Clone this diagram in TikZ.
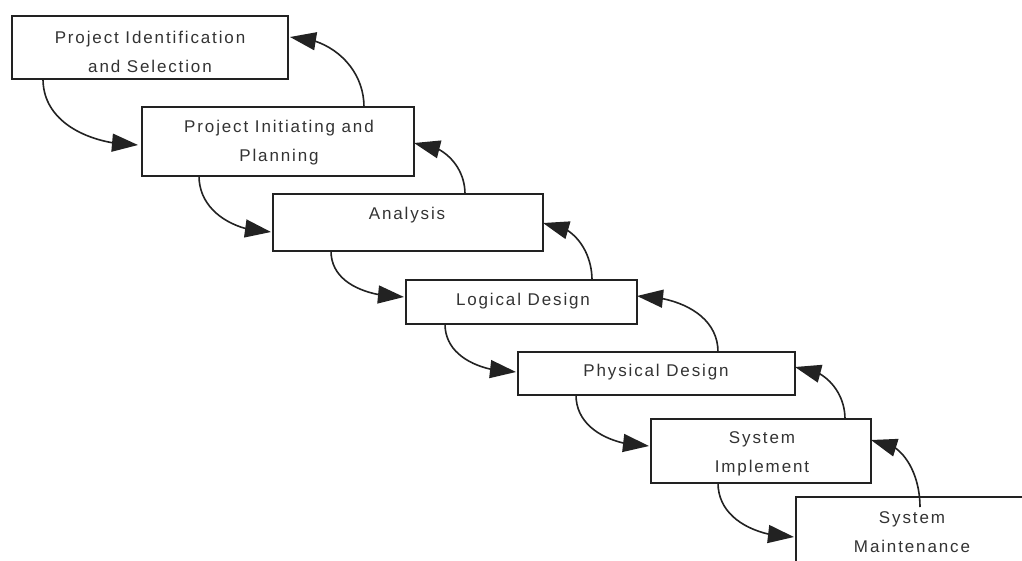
\documentclass[tikz,border=0pt]{standalone}
\usepackage{fontspec}
\setmainfont{Liberation Sans}[LetterSpace=11]
\usetikzlibrary{arrows.meta,bending}
\definecolor{ink}{HTML}{222222}
\definecolor{txtc}{HTML}{333333}
\tikzset{
  stage/.style={draw=ink, line width=1.8pt, fill=white, inner sep=0pt, outer sep=0pt},
  lbl/.style={text=txtc, align=center, font=\fontsize{17}{29.5}\selectfont, inner sep=0pt},
  flow/.style={draw=ink, line width=1.6pt, -{Triangle[length=26pt,width=18pt,flex]}},
}
\begin{document}
\begin{tikzpicture}[x=1pt,y=-1pt]
\clip (0,0) rectangle (1022,560);
\fill[white] (0,0) rectangle (1022,560);
% boxes (center, width, height)
\node[stage, minimum width=276pt, minimum height=63pt] (b1) at (150,47.5) {};
\node[stage, minimum width=272pt, minimum height=69pt] (b2) at (278,141.5) {};
\node[stage, minimum width=270pt, minimum height=57pt] (b3) at (408,222.5) {};
\node[stage, minimum width=231pt, minimum height=44pt] (b4) at (521.5,302) {};
\node[stage, minimum width=277pt, minimum height=43pt] (b5) at (656.5,373.5) {};
\node[stage, minimum width=220pt, minimum height=64pt] (b6) at (761,451) {};
\node[stage, minimum width=234pt, minimum height=78pt] (b7) at (913,536) {};
% labels
\node[lbl] (t1) at (150,52) {Project Identification\\and Selection};
\node[lbl] (t2) at (279,142.5) {Project Initiating and\\Planning};
\node[lbl] (t3) at (407,215) {Analysis};
\node[lbl] (t4) at (523,301) {Logical Design};
\node[lbl] (t5) at (656,372) {Physical Design};
\node[lbl] (t6) at (762,454) {System\\Implement};
\node[lbl] (t7) at (912,532) {System\\Maintenance};
% downward arrows
\draw[flow] ([xshift=31pt]b1.south west) to[out=-90,in=180] ([xshift=-4pt,yshift=-3.5pt]b2.west);
\draw[flow] ([xshift=57pt]b2.south west) to[out=-90,in=180] ([xshift=-2pt,yshift=-9.5pt]b3.west);
\draw[flow] ([xshift=58pt]b3.south west) to[out=-90,in=180] ([xshift=-2pt,yshift=5pt]b4.west);
\draw[flow] ([xshift=39pt]b4.south west) to[out=-90,in=180] ([xshift=-2pt,yshift=1.5pt]b5.west);
\draw[flow] ([xshift=58pt]b5.south west) to[out=-90,in=180] ([xshift=-2pt,yshift=5pt]b6.west);
\draw[flow] ([xshift=67pt]b6.south west) to[out=-90,in=180] ([xshift=-2pt,yshift=-1pt]b7.west);
% upward arrows
\draw[flow] ([xshift=222pt]b2.north west) to[out=90,in=0] ([xshift=2pt,yshift=10.5pt]b1.east);
\draw[flow] ([xshift=192pt]b3.north west) to[out=90,in=0] ([yshift=-1.5pt]b2.east);
\draw[flow] ([xshift=186pt]b4.north west) to[out=90,in=0] ([yshift=-0.5pt]b3.east);
\draw[flow] ([xshift=200pt]b5.north west) to[out=90,in=0] ([yshift=6pt]b4.east);
\draw[flow] ([xshift=194pt]b6.north west) to[out=90,in=0] ([yshift=6.5pt]b5.east);
\draw[flow] ([xshift=124pt,yshift=-10pt]b7.north west) to[out=90,in=0] ([yshift=11pt]b6.east);
\end{tikzpicture}
\end{document}
